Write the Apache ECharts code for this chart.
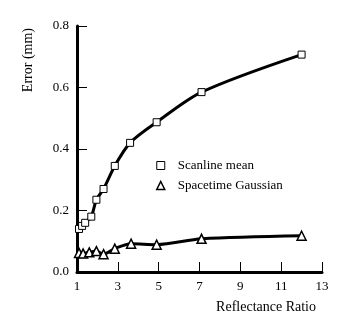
<!DOCTYPE html>
<html>
<head>
<meta charset="utf-8">
<script src="https://cdn.jsdelivr.net/npm/echarts@6/dist/echarts.min.js"></script>
<style>
  html, body { margin: 0; padding: 0; background: #fff; }
  #chart { width: 350px; height: 332px; }
</style>
</head>
<body>
<div id="chart"></div>
<script>
// 反射率比 vs 误差
const scanlineX = [1.1, 1.25, 1.4, 1.7, 1.95, 2.3, 2.85, 3.6, 4.9, 7.1, 12];
const scanlineY = [0.14, 0.15, 0.16, 0.18, 0.235, 0.27, 0.345, 0.42, 0.487, 0.585, 0.707];
const spacetimeX = [1.1, 1.3, 1.6, 1.95, 2.3, 2.85, 3.65, 4.9, 7.1, 12];
const spacetimeY = [0.062, 0.06, 0.064, 0.068, 0.058, 0.076, 0.092, 0.089, 0.108, 0.118];
const xTickLabels = [1, 3, 5, 7, 9, 11, 13];
const seriesNames = ["Scanline mean", "Spacetime Gaussian"];

function pairs(xs, ys) {
  return xs.map(function (x, i) { return [x, ys[i]]; });
}

let myChart = echarts.init(document.getElementById("chart"));
const font = "'Liberation Serif', 'Times New Roman', serif";

let option = {
  animation: false,
  backgroundColor: "#fff",
  grid: { left: 77, right: 28, top: 26, bottom: 60 },
  legend: {
    orient: "vertical",
    left: 151,
    top: 154,
    itemWidth: 8,
    itemHeight: 8,
    itemGap: 7,
    lineStyle: { width: 0 },
    textStyle: { fontFamily: font, fontSize: 13, color: "#000", padding: [0, 0, 0, 8] },
    data: [
      { name: seriesNames[0], icon: "rect", itemStyle: { color: "#fff", borderColor: "#000", borderWidth: 1 } },
      { name: seriesNames[1], icon: "triangle", itemStyle: { color: "#fff", borderColor: "#000", borderWidth: 1.5 } },
    ],
  },
  xAxis: {
    type: "value",
    min: 1,
    max: 13,
    name: "Reflectance Ratio",
    nameLocation: "end",
    nameGap: 0,
    nameTextStyle: {
      fontFamily: font, fontSize: 14, color: "#000",
      align: "right", verticalAlign: "top", padding: [28, 6, 0, 0],
    },
    axisLine: { lineStyle: { color: "#000", width: 3 } },
    axisTick: { inside: true, length: 10, customValues: xTickLabels.slice(1), lineStyle: { color: "#000", width: 1 } },
    axisLabel: { customValues: xTickLabels, fontFamily: font, fontSize: 13, color: "#000", margin: 8 },
    splitLine: { show: false },
  },
  yAxis: {
    type: "value",
    min: 0,
    max: 0.8,
    interval: 0.2,
    name: "Error (mm)",
    nameLocation: "end",
    nameRotate: 90,
    nameGap: -2,
    nameTextStyle: {
      fontFamily: font, fontSize: 14, color: "#000",
      align: "right", verticalAlign: "bottom", padding: [0, 0, 42, 0],
    },
    axisLine: { show: true, lineStyle: { color: "#000", width: 3 } },
    axisTick: { show: true, inside: true, length: 10, lineStyle: { color: "#000", width: 1 } },
    axisLabel: {
      fontFamily: font, fontSize: 13, color: "#000", margin: 8,
      formatter: function (v) { return v.toFixed(1); },
    },
    splitLine: { show: false },
  },
  series: [
    {
      name: seriesNames[0],
      type: "line",
      smooth: 0.3,
      data: pairs(scanlineX, scanlineY),
      symbol: "rect",
      symbolSize: 7,
      lineStyle: { color: "#000", width: 3 },
      itemStyle: { color: "#fff", borderColor: "#000", borderWidth: 1 },
    },
    {
      name: seriesNames[1],
      type: "line",
      smooth: 0.3,
      data: pairs(spacetimeX, spacetimeY),
      symbol: "triangle",
      symbolSize: 9,
      lineStyle: { color: "#000", width: 3 },
      itemStyle: { color: "#fff", borderColor: "#000", borderWidth: 1.5 },
    },
  ],
};

myChart.setOption(option);
window.addEventListener("resize", function () {
  myChart.resize();
});
</script>
</body>
</html>
